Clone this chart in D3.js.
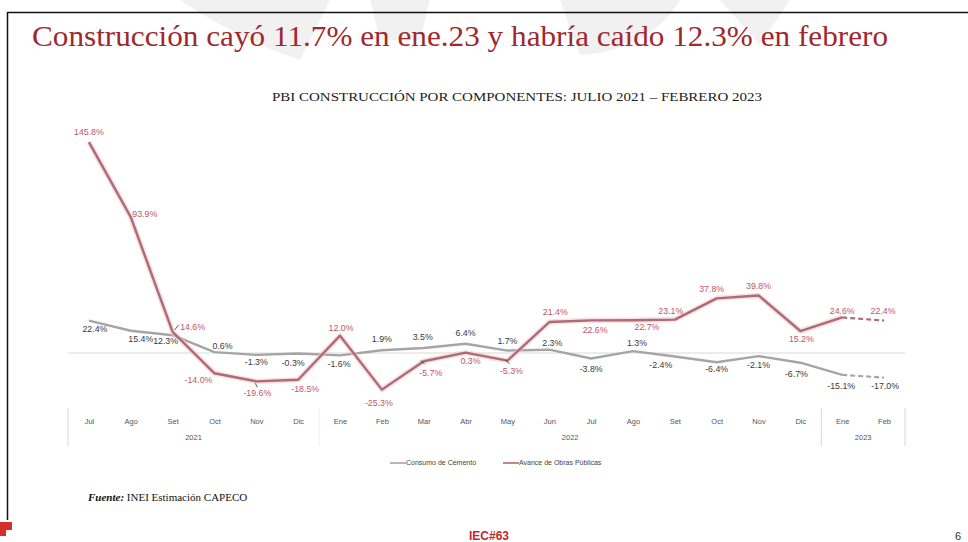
<!DOCTYPE html>
<html>
<head>
<meta charset="utf-8">
<script src="https://cdn.jsdelivr.net/npm/d3@7/dist/d3.min.js"></script>
<style>
  html, body { margin: 0; padding: 0; background: #fff; }
  svg { display: block; }
</style>
</head>
<body>
<svg id="chart" width="968" height="542"></svg>
<script>
// Monthly categories, July 2021 – February 2023
const months = ["Jul","Ago","Set","Oct","Nov","Dic","Ene","Feb","Mar","Abr","May","Jun","Jul","Ago","Set","Oct","Nov","Dic","Ene","Feb"];
const years = [
  { label: "2021", from: 0, to: 5 },
  { label: "2022", from: 6, to: 17 },
  { label: "2023", from: 18, to: 19 }
];

// Year-on-year variation (%)
const cemento = [22.4, 15.4, 12.3, 0.6, -1.3, -0.3, -1.6, 1.9, 3.5, 6.4, 1.7, 2.3, -3.8, 1.3, -2.4, -6.4, -2.1, -6.7, -15.1, -17.0];
const obras   = [145.8, 93.9, 14.6, -14.0, -19.6, -18.5, 12.0, -25.3, -5.7, 0.3, -5.3, 21.4, 22.6, 22.7, 23.1, 37.8, 39.8, 15.2, 24.6, 22.4];

// Label placement relative to each point [dx, dy]
const cementoLabelOffsets = [[6,8],[10,8],[-7,6],[8,-6],[0,7],[-5,9],[-1,9],[0,-11],[-1,-11],[0,-11],[0,-10],[3,-7],[0,10],[4,-8],[-14,8],[0,7],[0,9],[-4,11],[-1,11],[1,8]];
const obrasLabelOffsets   = [[0,-10],[14,-3],[20,-5],[-16,7],[1,12],[7,9],[1,-8],[-3,13],[7,12],[5,8],[4,10],[6,-10],[4,10],[14,7],[-4,-9],[-5,-9],[0,-10],[1,8],[0,-7],[-1,-10]];

const grey = "#a5a5a5";
const rose = "#ad6b74";
const roseText = "#c35568";

const svg = d3.select("#chart");

// Faint watermark shapes behind the header
const wm = svg.append("g").attr("fill", "#f1f1f1");
wm.append("path").attr("d", "M180,0 L330,0 L300,60 Q240,40 180,0 Z");
wm.append("path").attr("d", "M370,0 L430,0 L420,40 L380,40 Z");
wm.append("path").attr("d", "M560,0 L680,0 Q650,50 580,55 Z");
wm.append("path").attr("d", "M720,0 L790,0 L760,45 Z");

// Slide frame
svg.append("line").attr("x1", 7).attr("x2", 968).attr("y1", 12.5).attr("y2", 12.5)
  .attr("stroke", "#111").attr("stroke-width", 1.5);
svg.append("line").attr("x1", 7.5).attr("x2", 7.5).attr("y1", 12).attr("y2", 520)
  .attr("stroke", "#111").attr("stroke-width", 1.5);

// Headline
svg.append("text")
  .attr("x", 32).attr("y", 46)
  .attr("font-family", "'Liberation Serif', 'DejaVu Serif', serif")
  .attr("font-size", 29)
  .attr("fill", "#a1282e")
  .attr("textLength", 856).attr("lengthAdjust", "spacingAndGlyphs")
  .text("Construcción cayó 11.7% en ene.23 y  habría caído 12.3% en febrero");

svg.append("text")
  .attr("x", 272).attr("y", 101)
  .attr("font-family", "'Liberation Serif', 'DejaVu Serif', serif")
  .attr("font-size", 12)
  .attr("fill", "#222")
  .attr("textLength", 490).attr("lengthAdjust", "spacingAndGlyphs")
  .text("PBI CONSTRUCCIÓN POR COMPONENTES: JULIO 2021 – FEBRERO 2023");

// Scales
const x = d3.scaleBand().domain(d3.range(months.length)).range([68, 905]).padding(0);
const cx = i => x(i) + x.bandwidth() / 2;
const y = d3.scaleLinear().domain([-40, 150]).range([410.9, 136.0]);

// Zero line
svg.append("line")
  .attr("x1", x.range()[0]).attr("x2", x.range()[1])
  .attr("y1", y(0)).attr("y2", y(0))
  .attr("stroke", "#d9d9d9").attr("stroke-width", 1);

// Category axis: months with year groups
const axisG = svg.append("g").attr("transform", "translate(0,421)");
const monthAxis = d3.axisBottom(d3.scalePoint().domain(d3.range(months.length)).range([cx(0), cx(months.length - 1)]))
  .tickSize(0).tickPadding(0).tickFormat(i => months[i]);
axisG.call(monthAxis);
axisG.select(".domain").remove();
axisG.selectAll("text")
  .attr("y", 0).attr("dy", "0.35em")
  .attr("font-family", "'Liberation Sans', Arial, sans-serif")
  .attr("font-size", 7.5).attr("fill", "#555");

svg.append("g").selectAll("text").data(years).join("text")
  .attr("x", d => (cx(d.from) + cx(d.to)) / 2)
  .attr("y", 437).attr("dy", "0.35em")
  .attr("text-anchor", "middle")
  .attr("font-family", "'Liberation Sans', Arial, sans-serif")
  .attr("font-size", 7.5).attr("fill", "#555")
  .text(d => d.label);

// Group separators
const bounds = [0].concat(years.map(d => d.to + 1));
svg.append("g").selectAll("line").data(bounds).join("line")
  .attr("x1", b => b < months.length ? x(b) : x.range()[1])
  .attr("x2", b => b < months.length ? x(b) : x.range()[1])
  .attr("y1", 408).attr("y2", 446)
  .attr("stroke", (b, i) => i === 1 ? "#f0f0f0" : "#d6d6d6").attr("stroke-width", 1);

// Series lines: solid through January, dashed for the February estimate
const line = d3.line().x((d, i) => cx(i)).y(d => y(d));
const lastIdx = months.length - 1;

function drawSeries(values, color, halo) {
  const g = svg.append("g").attr("fill", "none");
  const solid = values.map((v, i) => i < lastIdx ? v : null);
  const solidLine = d3.line().defined(d => d !== null).x((d, i) => cx(i)).y(d => y(d));
  const dashPts = values.map((v, i) => i >= lastIdx - 1 ? v : null);
  if (halo) {
    g.append("path").attr("d", solidLine(solid))
      .attr("stroke", halo).attr("stroke-width", 5.5).attr("stroke-opacity", 0.55)
      .attr("stroke-linejoin", "round");
  }
  g.append("path").attr("d", solidLine(solid))
    .attr("stroke", color).attr("stroke-width", 2.4).attr("stroke-linejoin", "round");
  g.append("path").attr("d", solidLine(dashPts))
    .attr("stroke", color).attr("stroke-width", 2.2).attr("stroke-dasharray", "5,3");
}

drawSeries(cemento, grey, null);
drawSeries(obras, rose, "#f2c9d0");

// Leader ticks for crowded labels
const leaders = [
  { i: 2, from: [2, -2], to: [6, -7] },
  { i: 4, from: [-1, 2], to: [1, 6] },
  { i: 8, from: [-3, -1], to: [1, 3] },
  { i: 10, from: [-2, -1], to: [2, 3] }
];
svg.append("g").selectAll("path").data(leaders).join("path")
  .attr("d", d => {
    const px = cx(d.i), py = y(obras[d.i]);
    return `M${px + d.from[0]},${py + d.from[1]}L${px + d.to[0]},${py + d.to[1]}`;
  })
  .attr("stroke", "#333").attr("stroke-width", 0.8).attr("fill", "none");

// Value labels
const fmt = v => v.toFixed(1) + "%";
function drawLabels(values, offsets, color) {
  svg.append("g").selectAll("text").data(values).join("text")
    .attr("x", (d, i) => cx(i) + offsets[i][0])
    .attr("y", (d, i) => y(d) + offsets[i][1])
    .attr("dy", "0.35em")
    .attr("text-anchor", "middle")
    .attr("font-family", "'Liberation Sans', Arial, sans-serif")
    .attr("font-size", 8.8)
    .attr("fill", color)
    .text(fmt);
}
drawLabels(cemento, cementoLabelOffsets, "#3a3a3a");
drawLabels(obras, obrasLabelOffsets, roseText);

// Legend
const legend = [
  { name: "Consumo de Cemento", color: grey, x: 390 },
  { name: "Avance de Obras Públicas", color: rose, x: 503 }
];
const lg = svg.append("g").selectAll("g").data(legend).join("g")
  .attr("transform", d => `translate(${d.x},463)`);
lg.append("line").attr("x1", 0).attr("x2", 16).attr("y1", 0).attr("y2", 0)
  .attr("stroke", d => d.color).attr("stroke-width", 1.6);
lg.append("text").attr("x", 16).attr("dy", "0.35em")
  .attr("font-family", "'Liberation Sans', Arial, sans-serif")
  .attr("font-size", 7).attr("fill", "#444")
  .text(d => d.name);

// Source note
const src = svg.append("text").attr("x", 88).attr("y", 501)
  .attr("font-family", "'Liberation Serif', 'DejaVu Serif', serif")
  .attr("font-size", 11).attr("fill", "#111");
src.append("tspan").attr("font-weight", "bold").attr("font-style", "italic").text("Fuente:");
src.append("tspan").text(" INEI Estimación CAPECO");

// Footer marks
svg.append("path").attr("d", "M0,522 L12,522 L12,530 L6,530 L6,536 L0,536 Z").attr("fill", "#d32f2f");
svg.append("text").attr("x", 489).attr("y", 540).attr("text-anchor", "middle")
  .attr("font-family", "'Liberation Sans', Arial, sans-serif").attr("font-weight", "bold")
  .attr("font-size", 12).attr("fill", "#c62828").text("IEC#63");
svg.append("text").attr("x", 958).attr("y", 540).attr("text-anchor", "middle")
  .attr("font-family", "'Liberation Sans', Arial, sans-serif")
  .attr("font-size", 11).attr("fill", "#333").text("6");
</script>
</body>
</html>
